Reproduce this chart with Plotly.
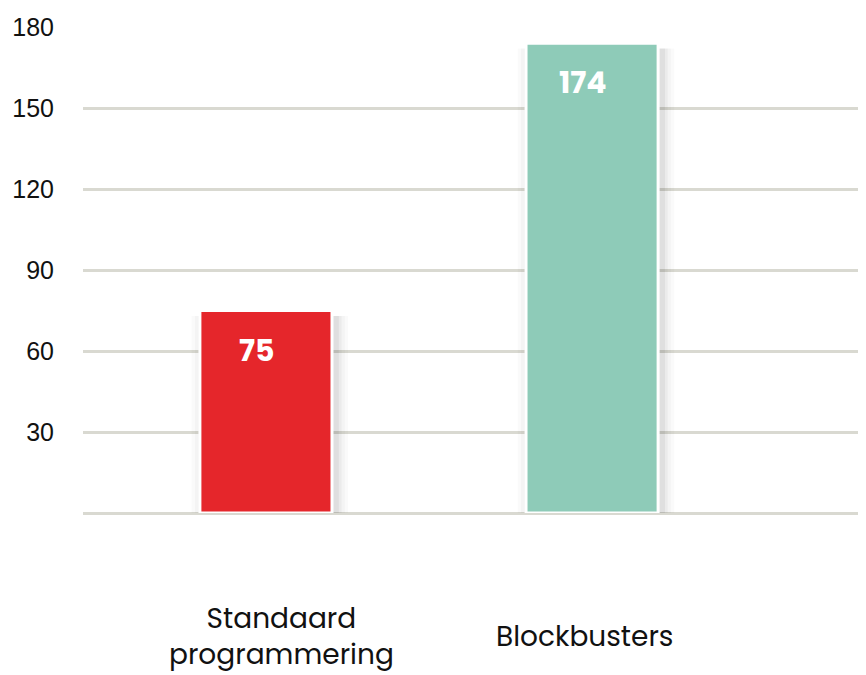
import plotly.graph_objects as go

categories = ["Standaard<br>programmering", "Blockbusters"]
values = [75, 174]
colors = ["#E5262B", "#8ECBB8"]
y_ticks = [30, 60, 90, 120, 150, 180]

pos = list(range(len(categories)))
bar_w = 0.405
label_xshift = [16, -8]

fig = go.Figure()

# soft shadow layers (blur imitation)
for grow, alpha in [(0.075, 0.018), (0.055, 0.025), (0.035, 0.035), (0.018, 0.05)]:
    fig.add_trace(go.Bar(
        x=[p + 0.012 for p in pos], y=[v + 2 for v in values], base=-4,
        width=bar_w + grow,
        marker=dict(color=f"rgba(0,0,0,{alpha})", line=dict(width=0)),
        hoverinfo="skip", showlegend=False,
    ))

fig.add_trace(go.Bar(
    x=pos, y=values, width=bar_w,
    marker=dict(color=colors, line=dict(color="white", width=3)),
    showlegend=False,
))

for p, v, cat, dx in zip(pos, values, categories, label_xshift):
    fig.add_annotation(
        x=p, y=v, xref="x", yref="y", text=f"<b>{v}</b>", showarrow=False,
        yanchor="top", yshift=-16, xshift=-9,
        font=dict(family="Poppins, Lato, sans-serif", size=30, color="white"),
    )
    fig.add_annotation(
        x=p, y=0, xref="x", yref="y", text=cat, showarrow=False,
        yanchor="middle", yshift=-123, xshift=dx,
        font=dict(family="Poppins, Lato, sans-serif", size=28, color="#111111"),
    )

fig.update_layout(
    width=858, height=667,
    margin=dict(l=75, r=0, t=19, b=162),
    paper_bgcolor="white", plot_bgcolor="white",
    barmode="overlay",
    xaxis=dict(
        range=[-0.561, 1.84], tickvals=pos, showticklabels=False,
        showgrid=False, zeroline=False, showline=False,
    ),
    yaxis=dict(
        range=[0, 180], tickvals=y_ticks,
        showgrid=True, gridcolor="#D9D9D1", gridwidth=3,
        zeroline=True, zerolinecolor="#D9D9D1", zerolinewidth=3,
        showline=False, ticklabelstandoff=28,
        tickfont=dict(family="Liberation Sans, Arial, sans-serif", size=25, color="#111111"),
    ),
)

fig.write_html("out.html")
